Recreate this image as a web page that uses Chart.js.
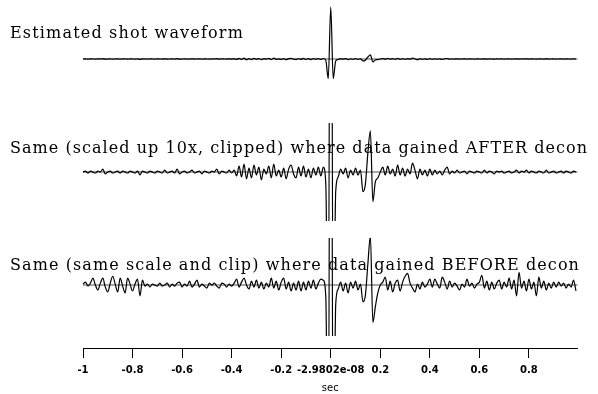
<!DOCTYPE html>
<html>
<head>
<meta charset="utf-8">
<script src="https://cdn.jsdelivr.net/npm/chart.js@4.4.1/dist/chart.umd.min.js"></script>
<style>
  html, body { margin: 0; padding: 0; background: #fff; }
  canvas { display: block; }
</style>
</head>
<body>
<canvas id="shotChart" width="598" height="394"></canvas>
<script>
// sampling grid of the traces (seconds)
const firstTime = -1;
const timeStep = 0.01;

// estimated shot waveform, amplitude units (peak ~527)
const shotWaveform = [
    0, 1, -1, 1, 0, -1, 1, 0, 3, -2,
    0, 1, -1, 0, 1, -1, 1, 0, -1, 1,
    0, -1, 1, -3, 1, 0, -1, 1, 0, -1,
    1, 0, -1, 2, -1, 0, 1, -1, 3, -2,
    0, 1, -1, 0, 2, -1, 0, 1, -2, 1,
    0, -1, 1, 0, 3, -2, 1, 0, -1, 2,
    -1, 2, -4, 6, -5, 8, -7, 4, -6, 7,
    -3, 5, -8, 3, -2, 6, -6, 8, -4, 2,
    -5, 4, -7, 3, 7, -2, -6, 5, -4, 6,
    -5, 3, -6, 4, -3, 5, -4, 5, -12, -200,
    527, -200, -20, -5, 3, -2, 4, -6, 2, -3,
    4, -3, 2, -20, -12, 20, 42, -30, -10, -6,
    0, 5, -3, 6, -2, 3, -4, 7, -3, 4,
    -4, 3, -2, 9, 2, -7, 3, -3, 2, -4,
    3, -3, 2, -2, 1, -3, 2, 5, -2, 1,
    -1, 2, -1, 0, 1, -2, 1, 0, -1, 1,
    0, -1, 2, -1, 1, 0, -2, 1, 0, 1,
    -1, 0, 1, -1, 0, 2, -1, 1, 0, 2,
    -1, 1, 0, -1, 1, 0, -1, 2, -1, 0,
    1, -1, 0, 1, -1, 1, 0, -1, 1, 0
];

// data gained before decon, same amplitude units
const gainedBefore = [
    1, 3, -1, 2, 7, 0, -5, 2, 7, -2,
    -7, 2, 9, 1, -7, 7, -1, -8, 7, 1,
    -6, 1, 6, -11, 5, -1, 1, -2, 1, 0,
    -1, 2, -1, 0, 2, -2, 1, -1, 2, 3,
    -2, 1, -1, 4, -2, 1, 5, -2, 1, -1,
    -3, 2, 0, 2, -1, -3, 2, 1, -2, 1,
    -1, 2, 6, -2, 3, 7, 0, -4, 4, -2,
    5, -3, 3, -4, 2, -2, 7, -3, 4, -5,
    3, 7, -4, 3, -6, 2, -5, 4, -6, 3,
    -5, 4, -3, 5, -4, 2, 6, 5, -12, -200,
    520, -210, -20, -4, 3, -6, 2, -8, 3, -3,
    4, -5, 1, -17, -10, 22, 50, -38, -22, -8,
    0, 3, 8, -5, 4, -7, 2, 5, -6, 3,
    9, 12, 2, -3, -7, 1, -4, 3, -2, 1,
    6, -2, 6, 1, -3, 8, 3, -4, 4, -2,
    2, -1, -5, 1, -2, 6, -1, 2, -3, 1,
    3, 10, -3, 4, -5, 3, -4, 2, 5, -4,
    3, -2, 7, -4, 5, -11, 13, -3, 4, -6,
    6, -4, 3, -11, 8, -3, 4, -5, 2, -3,
    3, -2, 3, -1, 2, -3, 1, -2, 5, -6
];

const tickValues = [-1, -0.8, -0.6, -0.4, -0.2, 0, 0.2, 0.4, 0.6, 0.8];
const tickLabels = ['-1', '-0.8', '-0.6', '-0.4', '-0.2', '-2.9802e-08', '0.2', '0.4', '0.6', '0.8'];

const panelTitles = [
    'Estimated shot waveform',
    'Same (scaled up 10x, clipped) where data gained AFTER decon',
    'Same (same scale and clip) where data gained BEFORE decon'
];

// layout (pixels)
const plotBottom = 354;
const baselines = [60, 175, 290];
const pxPerUnit = [0.1, 1, 1];
const clipHalf = 52;
const titleSpots = [
    { x: 10, y: 38, w: 234 },
    { x: 10, y: 153, w: 578 },
    { x: 10, y: 270, w: 570 }
];

const toPoints = vals => vals.map((v, i) => ({ x: firstTime + i * timeStep, y: v }));

const yAxis = k => ({
    display: false,
    min: -(plotBottom - baselines[k]) / pxPerUnit[k],
    max: baselines[k] / pxPerUnit[k]
});

const bandClip = k => ({
    left: false,
    right: false,
    top: -(baselines[k] - clipHalf),
    bottom: -(plotBottom - baselines[k] - clipHalf)
});

const trace = (vals, axis, clip) => ({
    data: toPoints(vals),
    yAxisID: axis,
    borderColor: '#000',
    borderWidth: 1.2,
    pointRadius: 0,
    cubicInterpolationMode: 'monotone',
    clip: clip
});

const zeroLines = {
    id: 'zeroLines',
    beforeDatasetsDraw(chart) {
        const { ctx, chartArea, scales } = chart;
        ctx.save();
        ctx.strokeStyle = '#8a8a8a';
        ctx.lineWidth = 1.5;
        ['y1', 'y2', 'y3'].forEach(id => {
            const y = scales[id].getPixelForValue(0);
            ctx.beginPath();
            ctx.moveTo(chartArea.left, y);
            ctx.lineTo(chartArea.right, y);
            ctx.stroke();
        });
        ctx.restore();
    }
};

const panelText = {
    id: 'panelText',
    beforeDatasetsDraw(chart) {
        const ctx = chart.ctx;
        ctx.save();
        ctx.fillStyle = '#000';
        ctx.font = '16px "DejaVu Serif"';
        ctx.textBaseline = 'alphabetic';
        ctx.textAlign = 'left';
        panelTitles.forEach((txt, k) => {
            const spot = titleSpots[k];
            ctx.letterSpacing = '0px';
            const natural = ctx.measureText(txt).width;
            ctx.letterSpacing = ((spot.w - natural) / txt.length) + 'px';
            ctx.fillText(txt, spot.x, spot.y);
        });
        ctx.letterSpacing = '0px';
        ctx.restore();
    }
};

new Chart(document.getElementById('shotChart'), {
    type: 'line',
    data: {
        datasets: [
            trace(shotWaveform, 'y1', false),
            trace(shotWaveform, 'y2', bandClip(1)),
            trace(gainedBefore, 'y3', bandClip(2))
        ]
    },
    options: {
        responsive: false,
        animation: false,
        devicePixelRatio: 1,
        layout: { padding: { left: 83, right: 20.5, top: 0, bottom: 0 } },
        plugins: { legend: { display: false }, tooltip: { enabled: false } },
        scales: {
            x: {
                type: 'linear',
                min: -1,
                max: 0.996,
                afterBuildTicks: s => { s.ticks = tickValues.map(v => ({ value: v })); },
                ticks: {
                    autoSkip: false,
                    maxRotation: 0,
                    color: '#000',
                    padding: 6,
                    font: { family: 'DejaVu Sans', size: 10, weight: 'bold' },
                    callback: (v, i) => tickLabels[i]
                },
                grid: { drawOnChartArea: false, drawTicks: true, tickLength: 10, color: '#000', lineWidth: 1 },
                border: { display: true, color: '#000', width: 1 },
                title: {
                    display: true,
                    text: 'sec',
                    color: '#000',
                    font: { family: 'DejaVu Sans', size: 10 },
                    padding: { top: 0, bottom: 0 }
                }
            },
            y1: yAxis(0),
            y2: yAxis(1),
            y3: yAxis(2)
        }
    },
    plugins: [zeroLines, panelText]
});
</script>
</body>
</html>
